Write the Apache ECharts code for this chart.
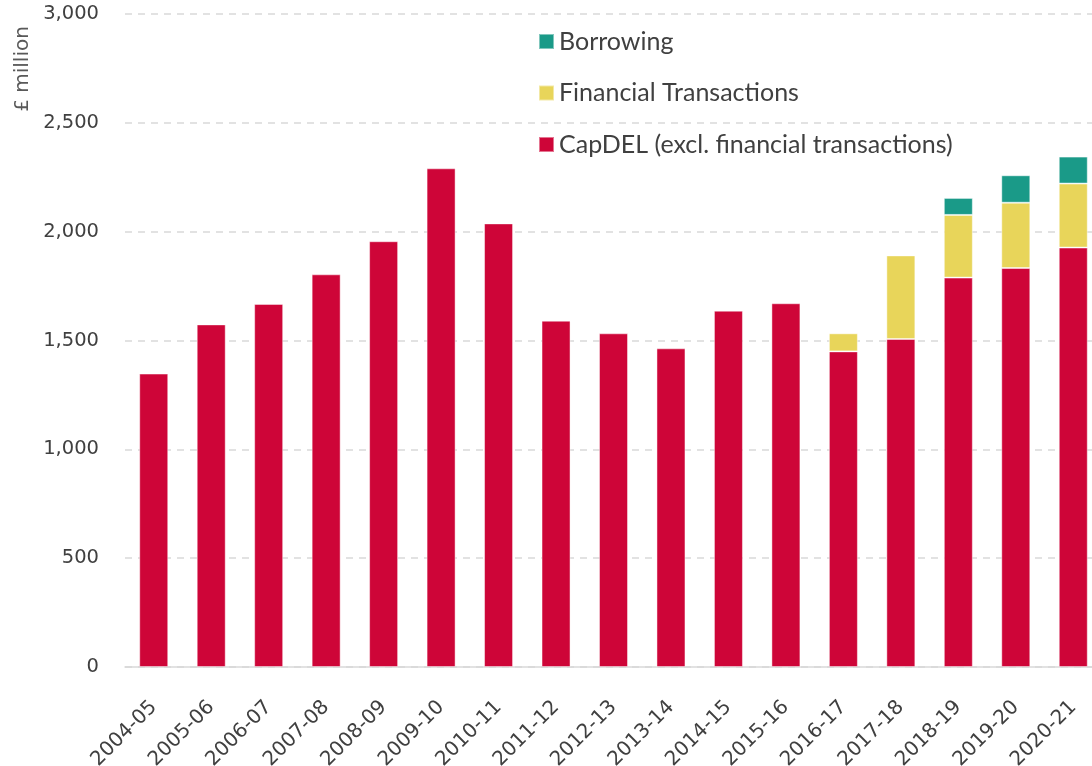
<!DOCTYPE html>
<html>
<head>
<meta charset="utf-8">
<script src="https://cdn.jsdelivr.net/npm/echarts@6/dist/echarts.min.js"></script>
<style>
html, body { margin: 0; padding: 0; background: #fff; overflow: hidden; }
/* the original figure is clipped at its right edge, so the chart is a bit wider than the window */
#chart { width: 1102px; height: 766px; }
</style>
</head>
<body>
<div id="chart"></div>
<script>
var years = ['2004-05', '2005-06', '2006-07', '2007-08', '2008-09', '2009-10', '2010-11', '2011-12', '2012-13',
	'2013-14', '2014-15', '2015-16', '2016-17', '2017-18', '2018-19', '2019-20', '2020-21'];
// CapDEL excl. financial transactions
var capdel = [1348, 1574, 1668, 1804, 1956, 2291, 2038, 1591, 1533, 1464, 1637, 1671, 1450, 1507, 1789, 1833, 1927];
var finTrans = [null, null, null, null, null, null, null, null, null, null, null, null, 83, 384, 288, 300, 294];
var borrowing = [null, null, null, null, null, null, null, null, null, null, null, null, null, null, 78, 126, 124];
var yTicks = [0, 500, 1000, 1500, 2000, 2500, 3000];

var colRed = '#CE0538', colYellow = '#E8D55A', colGreen = '#1A9A88';
var tickFont = '"DejaVu Sans", sans-serif';
var textFont = 'Lato, "Open Sans", sans-serif';

var chart = echarts.init(document.getElementById('chart'));

function barSeries(name, data, color) {
	return {
		name: name,
		type: 'bar',
		stack: 'total',
		barWidth: 29,
		data: data,
		itemStyle: {
			color: color,
			borderColor: 'rgba(255,255,255,0.45)',
			borderWidth: 1
		}
	};
}

var option = {
	animation: false,
	grid: {
		left: 125,
		right: 0,
		top: 14,
		bottom: 99,
		containLabel: false,
		outerBoundsMode: 'none'
	},
	legend: {
		orient: 'vertical',
		left: 533,
		top: 24,
		itemWidth: 15,
		itemHeight: 15,
		itemGap: 26.5,
		icon: 'rect',
		textStyle: { fontSize: 25, lineHeight: 25, color: '#404040', fontFamily: textFont },
		data: ['Borrowing', 'Financial Transactions', 'CapDEL (excl. financial transactions)']
	},
	graphic: [{
		type: 'text',
		x: 23,
		y: 69,
		rotation: Math.PI / 2,
		style: {
			text: '£ million',
			font: '20px ' + tickFont,
			fill: '#595959',
			align: 'center',
			verticalAlign: 'middle'
		}
	}],
	xAxis: {
		type: 'category',
		data: years,
		axisLine: { show: true, lineStyle: { color: '#d9d9d9', width: 1.5 } },
		axisTick: { show: false },
		axisLabel: {
			rotate: 45,
			interval: 0,
			fontSize: 20,
			fontFamily: tickFont,
			color: '#404040',
			margin: 37
		}
	},
	yAxis: {
		type: 'value',
		min: yTicks[0],
		max: yTicks[yTicks.length - 1],
		interval: 500,
		axisLine: { show: false },
		axisTick: { show: false },
		splitLine: { lineStyle: { color: '#d9d9d9', type: [7, 6], width: 1.5 } },
		axisLabel: {
			fontSize: 19.5,
			fontFamily: tickFont,
			color: '#404040',
			margin: 26,
			formatter: function (v) { return v.toLocaleString('en-GB'); }
		}
	},
	series: [
		barSeries('CapDEL (excl. financial transactions)', capdel, colRed),
		barSeries('Financial Transactions', finTrans, colYellow),
		barSeries('Borrowing', borrowing, colGreen)
	]
};
chart.setOption(option);
</script>
</body>
</html>
